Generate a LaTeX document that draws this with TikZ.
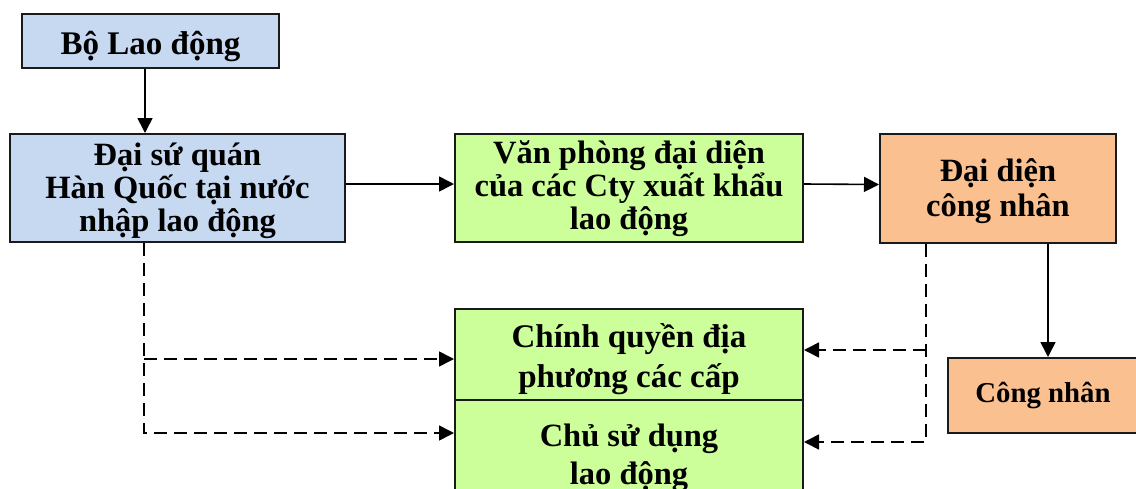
\documentclass[tikz,border=0pt]{standalone}
\usepackage{fontspec}
\setmainfont{Liberation Serif}
\usetikzlibrary{arrows.meta}
\definecolor{boxblue}{HTML}{C6D9F1}
\definecolor{boxgreen}{HTML}{CCFF99}
\definecolor{boxorange}{HTML}{FAC090}
\definecolor{edge}{HTML}{1A1A1A}
\tikzset{
  box/.style={draw=edge, line width=2pt, inner sep=0pt},
  bluebox/.style={box, fill=boxblue},
  greenbox/.style={box, fill=boxgreen},
  orangebox/.style={box, fill=boxorange},
  txt/.style={inner sep=0pt, align=center,
    font=\fontsize{32.5}{33}\selectfont\bfseries},
  link/.style={line width=1.6pt, -{Triangle[length=15pt,width=15pt]}},
  dashlink/.style={link, dash pattern=on 13pt off 7pt},
}
\begin{document}
\begin{tikzpicture}[x=1pt, y=-1pt]
\useasboundingbox (0,0) rectangle (1136,488);
\clip (0,0) rectangle (1136,488);
\fill[white] (0,0) rectangle (1136,488);

% boxes
\node[bluebox, minimum width=257pt, minimum height=54pt] (bld) at (150.5,41) {};
\node[bluebox, minimum width=335pt, minimum height=108pt] (dsq) at (177.5,188) {};
\node[greenbox, minimum width=348pt, minimum height=108pt] (vp) at (629,188) {};
\node[orangebox, minimum width=236pt, minimum height=109pt] (ddcn) at (998,188.5) {};
\node[orangebox, minimum width=190pt, minimum height=75pt] (cn) at (1043,395.5) {};
\node[greenbox, minimum width=348pt, minimum height=91pt] (cq) at (629,354.5) {};
\node[greenbox, minimum width=348pt, minimum height=112pt] (csd) at (629,456) {};

% box texts
\node[txt, font=\fontsize{33}{33}\selectfont\bfseries] (bld-t) at ([yshift=-6pt]bld.center) {Bộ Lao động};
\node[txt] (dsq-t) at ([yshift=-3pt]dsq.center) {Đại sứ quán\\ Hàn Quốc tại nước\\ nhập lao động};
\node[txt] (vp-t) at ([yshift=-1pt]vp.center) {Văn phòng đại diện\\ của các Cty xuất khẩu\\ lao động};
\node[txt, font=\fontsize{32.5}{35}\selectfont\bfseries] (ddcn-t) at ([yshift=-3pt]ddcn.center) {Đại diện\\ công nhân};
\node[txt, font=\fontsize{28.8}{30}\selectfont\bfseries] (cn-t) at (cn.center) {Công nhân};
\node[txt, font=\fontsize{33}{40}\selectfont\bfseries] (cq-t) at ([yshift=-5pt]cq.center) {Chính quyền địa\\ phương các cấp};
\node[txt, font=\fontsize{32.5}{38}\selectfont\bfseries] (csd-t) at ([yshift=-2pt]csd.center) {Chủ sử dụng\\ lao động};

% entry points of the dashed connectors
\coordinate (cqL) at ([yshift=-4.5pt]cq.west);
\coordinate (cqR) at ([yshift=4.5pt]cq.east);
\coordinate (dsqB) at ([xshift=-33.5pt]dsq.south);
\coordinate (ddcnB) at ([xshift=-72pt]ddcn.south);

% solid connectors
\draw[link] ([xshift=-5.5pt]bld.south) -- ([xshift=-5.5pt]bld.south |- dsq.north);
\draw[link] ([yshift=4pt]dsq.east) -- ([yshift=4pt]vp.west);
\draw[link] ([yshift=4pt]vp.east) -- ([yshift=4pt]ddcn.west);
\draw[link] ([xshift=50pt]ddcn.south) -- ([xshift=50pt]ddcn.south |- cn.north);

% dashed connectors on the left
\draw[dashlink] (dsqB) |- ([yshift=23pt]csd.west);
\draw[dashlink] (dsqB |- cqL) -- (cqL);

% dashed connectors on the right
\draw[dashlink] (ddcnB) |- ([yshift=14pt]csd.east);
\draw[dashlink] (ddcnB |- cqR) -- (cqR);
\end{tikzpicture}
\end{document}
